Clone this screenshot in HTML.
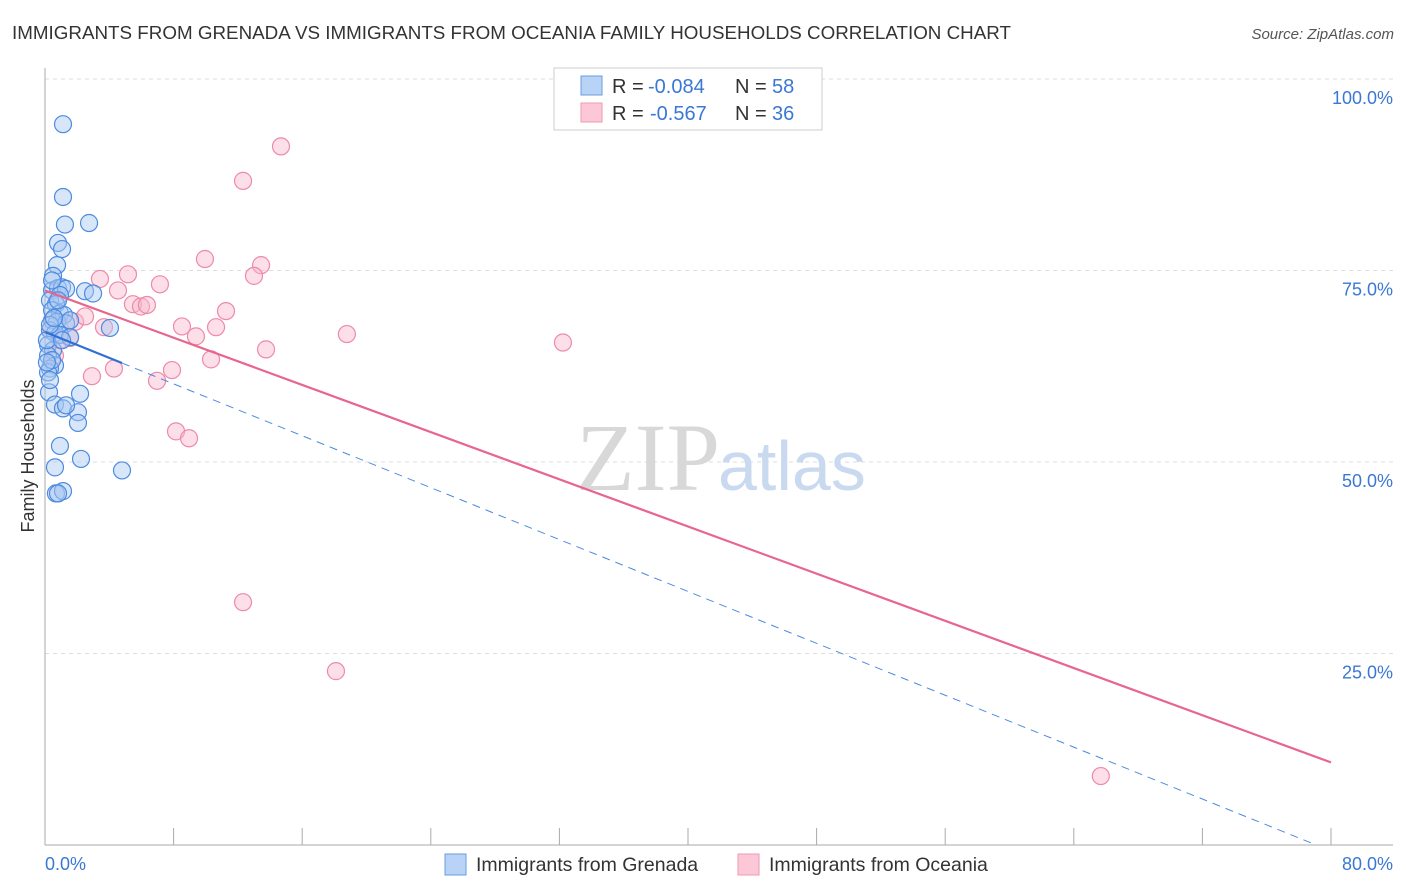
<!DOCTYPE html>
<html><head><meta charset="utf-8"><style>
body{margin:0;background:#fff;font-family:"Liberation Sans",sans-serif;}
#wrap{position:relative;width:1406px;height:892px;overflow:hidden;}
</style></head><body>
<div id="wrap">
<svg id="chart" width="1406" height="892">
<text x="12" y="39" font-size="18" fill="#333" textLength="999" lengthAdjust="spacingAndGlyphs">IMMIGRANTS FROM GRENADA VS IMMIGRANTS FROM OCEANIA FAMILY HOUSEHOLDS CORRELATION CHART</text>
<text x="1394" y="39" font-size="15" fill="#555" font-style="italic" text-anchor="end">Source: ZipAtlas.com</text>
<text x="34" y="456" font-size="18" fill="#333" text-anchor="middle" transform="rotate(-90 34 456)">Family Households</text>
<g id="grid"></g>
<text x="720" y="490" font-size="96" fill="#d8d8d8" text-anchor="end" font-family="Liberation Serif,serif">ZIP</text>
<text x="718" y="490" font-size="70" fill="#c9d9ef">atlas</text>
<g id="axes"></g>
<g id="marks"></g>
<g id="lines"></g>
<g>
<rect x="554" y="68" width="268" height="62" fill="#fff" stroke="#ccc"/>
<rect x="581" y="76" width="21" height="19" fill="#b8d3f5" stroke="#6a9ee0"/>
<rect x="581" y="103" width="21" height="19" fill="#fcc8d8" stroke="#ee9ab3"/>
<text x="612" y="93" font-size="20" fill="#333">R =</text>
<text x="648" y="93" font-size="20" fill="#3a78d4">-0.084</text>
<text x="735" y="93" font-size="20" fill="#333">N =</text>
<text x="772" y="93" font-size="20" fill="#3a78d4">58</text>
<text x="612" y="120" font-size="20" fill="#333">R =</text>
<text x="650" y="120" font-size="20" fill="#3a78d4">-0.567</text>
<text x="735" y="120" font-size="20" fill="#333">N =</text>
<text x="772" y="120" font-size="20" fill="#3a78d4">36</text>
</g>
<g>
<rect x="445" y="854" width="21" height="21" fill="#b8d3f5" stroke="#6a9ee0"/>
<text x="476" y="871" font-size="19.5" fill="#333">Immigrants from Grenada</text>
<rect x="738" y="854" width="21" height="21" fill="#fcc8d8" stroke="#ee9ab3"/>
<text x="769" y="871" font-size="19.5" fill="#333">Immigrants from Oceania</text>
</g>
</svg>
</div>
<script>
const yTicks=[25,50,75,100];
const yTickLabels=["25.0%","50.0%","75.0%","100.0%"];
const xTicks=[0,8,16,24,32,40,48,56,64,72,80];
const xEndLabels=["0.0%","80.0%"];
const grenadaX=[1.12,1.12,1.24,2.74,0.81,1.06,0.75,0.50,0.44,0.81,1.06,1.31,0.93,0.31,0.68,2.49,2.99,0.44,0.93,1.18,0.44,0.75,1.31,4.04,0.31,0.62,0.93,1.56,0.19,0.50,0.19,0.62,0.31,0.19,0.44,0.25,0.62,1.12,2.18,2.05,2.05,0.93,0.62,2.24,4.79,0.68,1.12,0.81,0.12,0.31,0.81,0.12,0.44,1.56,0.56,1.06,0.31,1.31];
const grenadaY=[94.1,84.6,81.0,81.2,78.6,77.8,75.7,74.3,72.4,72.7,72.8,72.6,71.8,71.1,70.6,72.3,72.0,69.8,69.4,69.2,68.5,68.3,68.1,67.5,67.2,66.8,66.6,66.3,65.3,64.6,63.9,62.6,62.2,61.7,63.3,59.1,57.5,57.0,58.9,56.5,55.1,52.1,49.3,50.4,48.9,45.9,46.2,45.9,65.9,67.9,71.1,63.0,73.7,68.5,68.8,65.9,60.7,57.4];
const oceaniaX=[14.68,12.32,9.95,13.44,13.0,5.16,3.42,7.15,4.54,5.47,5.97,6.34,11.26,8.52,10.64,9.39,18.78,32.22,3.67,1.87,2.49,13.75,10.33,4.29,7.90,2.92,6.97,8.15,8.96,12.32,18.10,65.68,0.62,0.93,0.31,1.56];
const oceaniaY=[91.2,86.7,76.5,75.7,74.3,74.5,73.9,73.2,72.4,70.6,70.3,70.5,69.7,67.7,67.6,66.4,66.7,65.6,67.6,68.3,69.0,64.7,63.4,62.2,62.0,61.2,60.6,54.0,53.1,31.7,22.7,9.0,63.9,65.9,67.2,66.2];
const NS="http://www.w3.org/2000/svg";
const X0=45,X1=1331,Y0=845,Y100=79;
const sx=v=>X0+(v/80)*(X1-X0);
const sy=v=>Y0-(v/100)*(Y0-Y100);
function mk(tag,attrs,parent){const e=document.createElementNS(NS,tag);for(const k in attrs)e.setAttribute(k,attrs[k]);document.getElementById(parent).appendChild(e);return e;}
yTicks.forEach((t,i)=>{
 const l=mk('line',{x1:X0,x2:1393,y1:sy(t),y2:sy(t),stroke:'#ddd','stroke-dasharray':'4,4'},'grid');
 
 
 const tx=mk('text',{x:1393,y:sy(t)+25,'font-size':18,fill:'#3a78d4','text-anchor':'end'},'grid');
 tx.textContent=yTickLabels[i];
 
 
});
const ax=mk('line',{x1:X0,x2:X0,y1:68,y2:Y0,stroke:'#aaa'},'axes');


const bx=mk('line',{x1:X0,x2:1393,y1:Y0,y2:Y0,stroke:'#aaa'},'axes');


xTicks.forEach(t=>{
 const l=mk('line',{x1:sx(t),x2:sx(t),y1:Y0,y2:Y0-17,stroke:'#aaa'},'axes');
 
 
});
const xl0=mk('text',{x:45,y:870,'font-size':18,fill:'#3a78d4'},'axes');
xl0.textContent=xEndLabels[0];


const xl1=mk('text',{x:1393,y:870,'font-size':18,fill:'#3a78d4','text-anchor':'end'},'axes');
xl1.textContent=xEndLabels[1];


function dots(xs,ys,fill,stroke,name){
 xs.forEach((v,i)=>{
  const c=mk('circle',{cx:sx(v),cy:sy(ys[i]),r:8.5,fill:fill,'fill-opacity':0.45,stroke:stroke,'stroke-width':1.2},'marks');
  
  
 });
}
dots(oceaniaX,oceaniaY,'#f8b8cc','#ee8aa8','point-oceania');
dots(grenadaX,grenadaY,'#a9c8f2','#4d8be0','point-grenada');
function fit(xs,ys){const n=xs.length;let mx=0,my=0;xs.forEach((v,i)=>{mx+=v;my+=ys[i];});mx/=n;my/=n;let sxy=0,sxx=0;xs.forEach((v,i)=>{sxy+=(v-mx)*(ys[i]-my);sxx+=(v-mx)*(v-mx);});const b=sxy/sxx;return [b,my-b*mx];}
const [pb,pa]=fit(oceaniaX,oceaniaY);
const pl=mk('line',{x1:sx(0),y1:sy(pa),x2:sx(80),y2:sy(pa+pb*80),stroke:'#e8668e','stroke-width':2.2},'lines');


const [gb,ga]=fit(grenadaX,grenadaY);
const gmax=Math.max(...grenadaX);
const gl=mk('line',{x1:sx(0),y1:sy(ga),x2:sx(gmax),y2:sy(ga+gb*gmax),stroke:'#2f6fd6','stroke-width':2.2},'lines');


let xe=80;if(ga+gb*80<0&&gb<0)xe=-ga/gb;
const gd=mk('line',{x1:sx(gmax),y1:sy(ga+gb*gmax),x2:sx(xe),y2:sy(ga+gb*xe),stroke:'#4d8be0','stroke-width':1,'stroke-dasharray':'8,6'},'lines');


</script>
</body></html>
